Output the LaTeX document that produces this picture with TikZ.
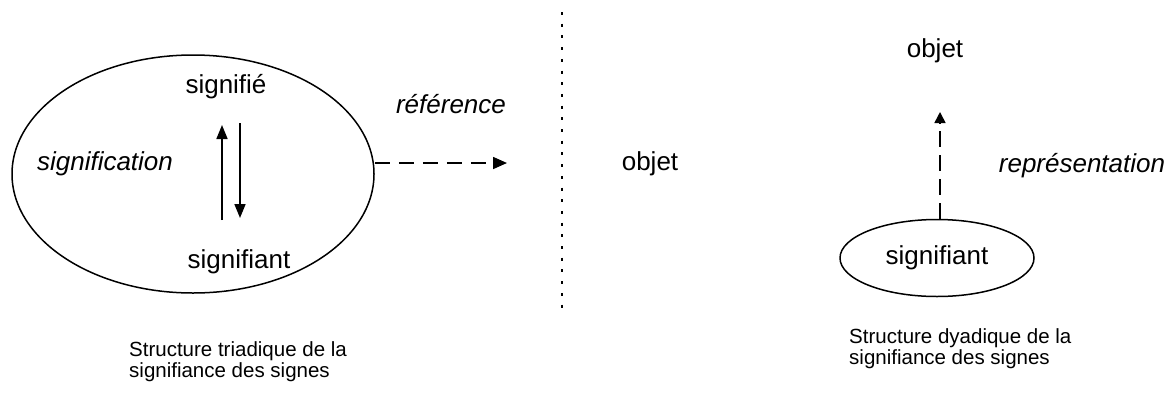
\documentclass[tikz,border=0pt]{standalone}
\usepackage{fontspec}
\setmainfont{Liberation Sans}
\usetikzlibrary{shapes.geometric,arrows.meta}
\tikzset{
  lbl/.style={anchor=base, inner sep=0pt, font=\fontsize{26}{30}\selectfont},
  ilbl/.style={lbl, font=\fontsize{26}{30}\selectfont\itshape},
  captext/.style={anchor=base west, inner sep=0pt, align=left, font=\fontsize{20.5}{20.5}\selectfont},
  oval/.style={draw, ellipse, line width=1.5pt, inner sep=0pt},
  solidarrow/.style={line width=1.7pt, -{Triangle[length=14pt,width=11pt]}},
  dasharrow/.style={line width=1.6pt, dash pattern=on 15pt off 9pt, -{Triangle[length=14pt,width=12pt]}},
  dotline/.style={line width=1.8pt, dash pattern=on 3pt off 8.7pt}
}
\begin{document}
\begin{tikzpicture}[x=1pt,y=-1pt]
\useasboundingbox[fill=white] (0,0) rectangle (1175,405);
% left triadic structure
\node[oval, minimum width=362pt, minimum height=238pt] (big) at (193,174) {};
\node[lbl] (sfie) at (226,93) {signifié};
\node[lbl] (sfiant) at (239,268) {signifiant};
\node[ilbl] (sfication) at (105,170) {signification};
\node[ilbl] (ref) at (451,113) {référence};
\coordinate (upA) at (222,220);
\coordinate (upB) at (222,125);
\coordinate (dnA) at (240,123);
\coordinate (dnB) at (240,218);
\draw[solidarrow] (upA) -- (upB);
\draw[solidarrow] (dnA) -- (dnB);
\coordinate (refend) at (507,163);
\draw[dasharrow] (big.east |- refend) -- (refend);
% separator
\coordinate (d1) at (562,12);
\coordinate (d2) at (562,313);
\draw[dotline] (d1) -- (d2);
\node[lbl] (obj1) at (650,170) {objet};
% right dyadic structure
\node[lbl] (obj2) at (935,57) {objet};
\node[oval, minimum width=194pt, minimum height=77pt, font=\fontsize{26}{30}\selectfont] (small) at (937,258) {signifiant};
\coordinate (reptip) at (940,112);
\draw[dasharrow, dash pattern=on 16pt off 8pt, -{Triangle[length=11pt,width=11pt]}] (small.north -| reptip) -- (reptip);
\node[ilbl] (rep) at (1082,172) {représentation};
% captions
\node[captext] (capL) at (129,377) {Structure triadique de la\\signifiance des signes};
\node[captext] (capR) at (849,364) {Structure dyadique de la\\signifiance des signes};
\end{tikzpicture}
\end{document}
